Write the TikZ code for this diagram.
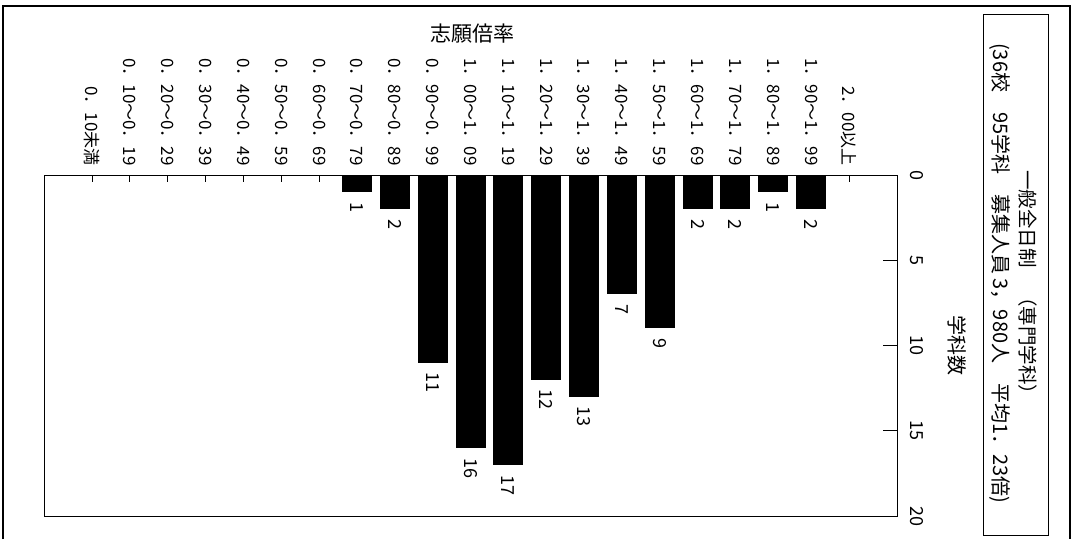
\documentclass[tikz,border=0pt]{standalone}
\usepackage{fontspec}
\newfontfamily\jp{Noto Sans CJK JP}
\begin{document}
\begin{tikzpicture}[x=1pt,y=-1pt,
  framebox/.style={draw=black,line width=1.3pt},
  barbox/.style={fill=black,draw=none,minimum width=30pt,inner sep=0pt,outer sep=0pt,anchor=north},
  catlab/.style={font=\jp\fontsize{17}{17}\selectfont,rotate=-90,anchor=east,inner sep=0pt},
  vallab/.style={font=\jp\fontsize{18}{18}\selectfont,rotate=-90,anchor=west,inner sep=0pt},
  axlab/.style={font=\jp\fontsize{18}{18}\selectfont,rotate=-90,inner sep=0pt},
  ttl/.style={font=\jp\fontsize{19.5}{19.5}\selectfont,rotate=-90,anchor=west,inner sep=0pt},
  tick/.style={line width=1pt}]
\useasboundingbox (0,0) rectangle (1073,539);
% outer frame
\draw[line width=1.3pt] (3,539) -- (3,6) -- (1070,6) -- (1070,539);
% plot area
\node[framebox,minimum width=853pt,minimum height=341pt,inner sep=0pt,anchor=north west] (plot) at (44,175) {};
% category labels and ticks
\foreach \i/\t in {0/0．10未満,1/0．10～0．19,2/0．20～0．29,3/0．30～0．39,4/0．40～0．49,5/0．50～0．59,6/0．60～0．69,7/0．70～0．79,8/0．80～0．89,9/0．90～0．99,10/1．00～1．09,11/1．10～1．19,12/1．20～1．29,13/1．30～1．39,14/1．40～1．49,15/1．50～1．59,16/1．60～1．69,17/1．70～1．79,18/1．80～1．89,19/1．90～1．99,20/2．00以上}{
  \pgfmathsetmacro\xx{92+37.85*\i}
  \node[catlab] (c\i) at (\xx,166) {\t};
  \coordinate (t\i) at (\xx,175);
  \draw[tick] (t\i) -- ++(0,7);
}
% bars
\foreach \i/\v in {7/1,8/2,9/11,10/16,11/17,12/12,13/13,14/7,15/9,16/2,17/2,18/1,19/2}{
  \pgfmathsetmacro\xx{92+37.85*\i}
  \pgfmathsetmacro\hh{\v*17.05}
  \node[barbox,minimum height=\hh pt] (b\i) at (\xx,175) {};
  \node[vallab] (v\i) at ([yshift=-10pt]b\i.south) {\v};
}
% value axis
\foreach \k in {0,5,10,15,20}{
  \pgfmathsetmacro\yy{175+17.05*\k}
  \node[axlab] (a\k) at (917,\yy) {\k};
}
\foreach \k in {5,10,15}{
  \pgfmathsetmacro\yy{175+17.05*\k}
  \coordinate (r\k) at (897,\yy);
  \draw[tick] (r\k) -- ++(-14,0);
}
\node[font=\jp\fontsize{20}{20}\selectfont,rotate=-90,inner sep=0pt] (ylab) at (957,345) {学科数};
\node[font=\jp\fontsize{21}{21}\selectfont,inner sep=0pt] (xlab) at (472,34) {志願倍率};
% title box
\node[framebox,minimum width=65pt,minimum height=521pt,inner sep=0pt,anchor=north west] (tbox) at (983,14) {};
\node[ttl] (t1) at (1028,170) {一般全日制　（専門学科）};
\node[ttl,font=\jp\fontsize{20}{20}\selectfont] (t2) at (1000,43) {(36校　95学科　募集人員 3，980人　平均1．23倍)};
\end{tikzpicture}
\end{document}
